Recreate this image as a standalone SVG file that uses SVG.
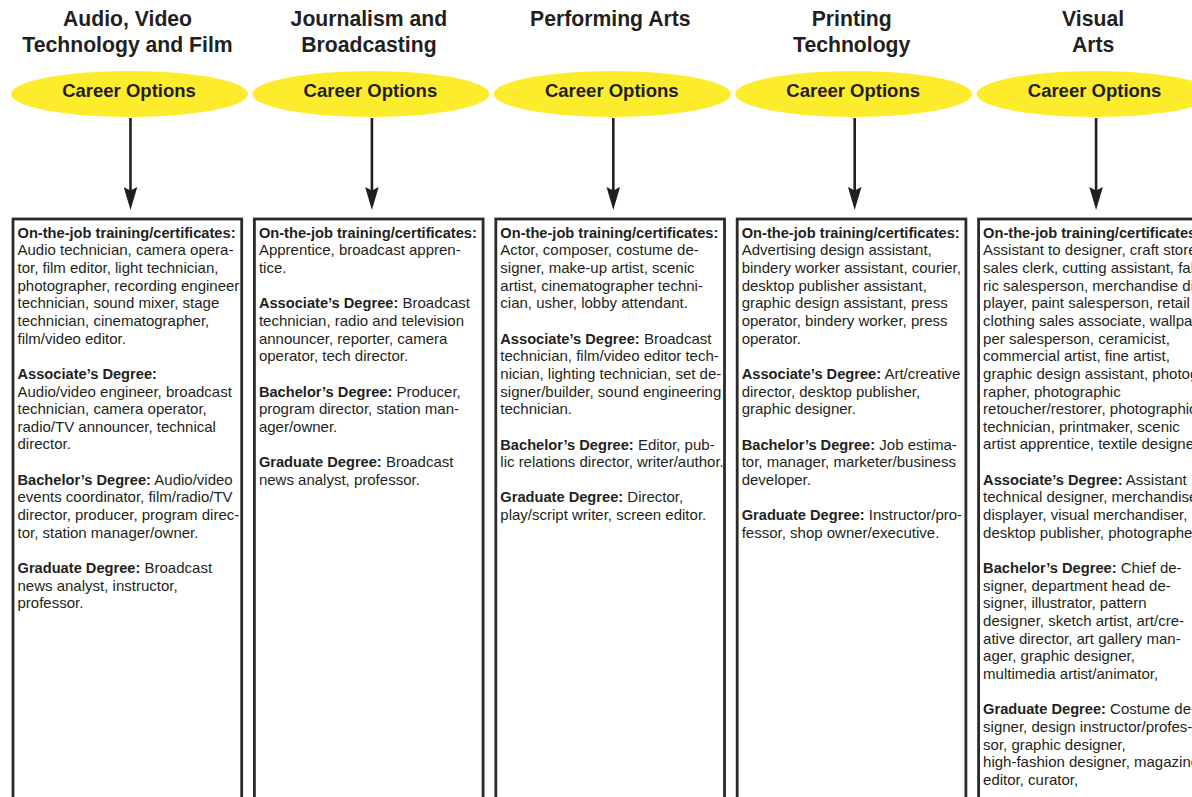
<svg xmlns="http://www.w3.org/2000/svg" width="1192" height="797" viewBox="0 0 1192 797">
<style>
text{font-family:"Liberation Sans",Arial,Helvetica,sans-serif;fill:#231f20}
.hd{font-size:21.2px;font-weight:bold;text-anchor:middle}
.co{font-size:18.5px;font-weight:bold;text-anchor:middle}
.ell{fill:#fcec2c;stroke:none}
.box{fill:#fff;stroke:#2b2b2b;stroke-width:2.8}
.bd{font-size:15px}
.b{font-weight:bold;font-size:14.65px}
.conn{stroke:#231f20;stroke-width:2.6;fill:none}
</style>
<defs>
<marker id="ah" viewBox="0 -7 23 14" markerWidth="23" markerHeight="14" refX="13" refY="0" orient="auto" markerUnits="userSpaceOnUse">
<path d="M0,-6.8 L23,0 L0,6.8 L3.5,0 Z" fill="#231f20"/>
</marker>
</defs>
<rect width="1192" height="797" fill="#fff"/>

<g id="connectors">
<line class="conn" x1="130.5" y1="118" x2="130.5" y2="200" marker-end="url(#ah)"/>
<line class="conn" x1="371.9" y1="118" x2="371.9" y2="200" marker-end="url(#ah)"/>
<line class="conn" x1="613.3" y1="118" x2="613.3" y2="200" marker-end="url(#ah)"/>
<line class="conn" x1="854.7" y1="118" x2="854.7" y2="200" marker-end="url(#ah)"/>
<line class="conn" x1="1096.1" y1="118" x2="1096.1" y2="200" marker-end="url(#ah)"/>
</g>

<!-- Column 1 -->
<g id="col1-title">
<text class="hd" x="127.5" y="26">Audio, Video</text>
<text class="hd" x="127.5" y="52">Technology and Film</text>
</g>
<g id="col1-options">
<ellipse class="ell" cx="129.5" cy="94" rx="118.5" ry="23"/>
<text class="co" x="129" y="97">Career Options</text>
</g>
<g id="col1-box">
<rect class="box" x="13" y="219" width="228.7" height="600"/>
<text class="bd" x="17.5" y="237.7">
<tspan class="b">On-the-job training/certificates:</tspan>
<tspan x="17.5" dy="17.65">Audio technician, camera opera-</tspan>
<tspan x="17.5" dy="17.65">tor, film editor, light technician,</tspan>
<tspan x="17.5" dy="17.65">photographer, recording engineer</tspan>
<tspan x="17.5" dy="17.65">technician, sound mixer, stage</tspan>
<tspan x="17.5" dy="17.65">technician, cinematographer,</tspan>
<tspan x="17.5" dy="17.65">film/video editor.</tspan>
<tspan x="17.5" dy="35.3" class="b">Associate’s Degree:</tspan>
<tspan x="17.5" dy="17.65">Audio/video engineer, broadcast</tspan>
<tspan x="17.5" dy="17.65">technician, camera operator,</tspan>
<tspan x="17.5" dy="17.65">radio/TV announcer, technical</tspan>
<tspan x="17.5" dy="17.65">director.</tspan>
<tspan x="17.5" dy="35.3" class="b">Bachelor’s Degree:</tspan><tspan> Audio/video</tspan>
<tspan x="17.5" dy="17.65">events coordinator, film/radio/TV</tspan>
<tspan x="17.5" dy="17.65">director, producer, program direc-</tspan>
<tspan x="17.5" dy="17.65">tor, station manager/owner.</tspan>
<tspan x="17.5" dy="35.3" class="b">Graduate Degree:</tspan><tspan> Broadcast</tspan>
<tspan x="17.5" dy="17.65">news analyst, instructor,</tspan>
<tspan x="17.5" dy="17.65">professor.</tspan>
</text>
</g>

<!-- Column 2 -->
<g id="col2-title">
<text class="hd" x="368.9" y="26">Journalism and</text>
<text class="hd" x="368.9" y="52">Broadcasting</text>
</g>
<g id="col2-options">
<ellipse class="ell" cx="370.9" cy="94" rx="118.5" ry="23"/>
<text class="co" x="370.4" y="97">Career Options</text>
</g>
<g id="col2-box">
<rect class="box" x="254.4" y="219" width="228.7" height="600"/>
<text class="bd" x="258.9" y="237.7">
<tspan class="b">On-the-job training/certificates:</tspan>
<tspan x="258.9" dy="17.65">Apprentice, broadcast appren-</tspan>
<tspan x="258.9" dy="17.65">tice.</tspan>
<tspan x="258.9" dy="35.3" class="b">Associate’s Degree:</tspan><tspan> Broadcast</tspan>
<tspan x="258.9" dy="17.65">technician, radio and television</tspan>
<tspan x="258.9" dy="17.65">announcer, reporter, camera</tspan>
<tspan x="258.9" dy="17.65">operator, tech director.</tspan>
<tspan x="258.9" dy="35.3" class="b">Bachelor’s Degree:</tspan><tspan> Producer,</tspan>
<tspan x="258.9" dy="17.65">program director, station man-</tspan>
<tspan x="258.9" dy="17.65">ager/owner.</tspan>
<tspan x="258.9" dy="35.3" class="b">Graduate Degree:</tspan><tspan> Broadcast</tspan>
<tspan x="258.9" dy="17.65">news analyst, professor.</tspan>
</text>
</g>

<!-- Column 3 -->
<g id="col3-title">
<text class="hd" x="610.3" y="26">Performing Arts</text>
</g>
<g id="col3-options">
<ellipse class="ell" cx="612.3" cy="94" rx="118.5" ry="23"/>
<text class="co" x="611.8" y="97">Career Options</text>
</g>
<g id="col3-box">
<rect class="box" x="495.8" y="219" width="228.7" height="600"/>
<text class="bd" x="500.3" y="237.7">
<tspan class="b">On-the-job training/certificates:</tspan>
<tspan x="500.3" dy="17.65">Actor, composer, costume de-</tspan>
<tspan x="500.3" dy="17.65">signer, make-up artist, scenic</tspan>
<tspan x="500.3" dy="17.65">artist, cinematographer techni-</tspan>
<tspan x="500.3" dy="17.65">cian, usher, lobby attendant.</tspan>
<tspan x="500.3" dy="35.3" class="b">Associate’s Degree:</tspan><tspan> Broadcast</tspan>
<tspan x="500.3" dy="17.65">technician, film/video editor tech-</tspan>
<tspan x="500.3" dy="17.65">nician, lighting technician, set de-</tspan>
<tspan x="500.3" dy="17.65">signer/builder, sound engineering</tspan>
<tspan x="500.3" dy="17.65">technician.</tspan>
<tspan x="500.3" dy="35.3" class="b">Bachelor’s Degree:</tspan><tspan> Editor, pub-</tspan>
<tspan x="500.3" dy="17.65">lic relations director, writer/author.</tspan>
<tspan x="500.3" dy="35.3" class="b">Graduate Degree:</tspan><tspan> Director,</tspan>
<tspan x="500.3" dy="17.65">play/script writer, screen editor.</tspan>
</text>
</g>

<!-- Column 4 -->
<g id="col4-title">
<text class="hd" x="851.7" y="26">Printing</text>
<text class="hd" x="851.7" y="52">Technology</text>
</g>
<g id="col4-options">
<ellipse class="ell" cx="853.7" cy="94" rx="118.5" ry="23"/>
<text class="co" x="853.2" y="97">Career Options</text>
</g>
<g id="col4-box">
<rect class="box" x="737.2" y="219" width="228.7" height="600"/>
<text class="bd" x="741.7" y="237.7">
<tspan class="b">On-the-job training/certificates:</tspan>
<tspan x="741.7" dy="17.65">Advertising design assistant,</tspan>
<tspan x="741.7" dy="17.65">bindery worker assistant, courier,</tspan>
<tspan x="741.7" dy="17.65">desktop publisher assistant,</tspan>
<tspan x="741.7" dy="17.65">graphic design assistant, press</tspan>
<tspan x="741.7" dy="17.65">operator, bindery worker, press</tspan>
<tspan x="741.7" dy="17.65">operator.</tspan>
<tspan x="741.7" dy="35.3" class="b">Associate’s Degree:</tspan><tspan> Art/creative</tspan>
<tspan x="741.7" dy="17.65">director, desktop publisher,</tspan>
<tspan x="741.7" dy="17.65">graphic designer.</tspan>
<tspan x="741.7" dy="35.3" class="b">Bachelor’s Degree:</tspan><tspan> Job estima-</tspan>
<tspan x="741.7" dy="17.65">tor, manager, marketer/business</tspan>
<tspan x="741.7" dy="17.65">developer.</tspan>
<tspan x="741.7" dy="35.3" class="b">Graduate Degree:</tspan><tspan> Instructor/pro-</tspan>
<tspan x="741.7" dy="17.65">fessor, shop owner/executive.</tspan>
</text>
</g>

<!-- Column 5 -->
<g id="col5-title">
<text class="hd" x="1093.1" y="26">Visual</text>
<text class="hd" x="1093.1" y="52">Arts</text>
</g>
<g id="col5-options">
<ellipse class="ell" cx="1095.1" cy="94" rx="118.5" ry="23"/>
<text class="co" x="1094.6" y="97">Career Options</text>
</g>
<g id="col5-box">
<rect class="box" x="978.6" y="219" width="228.7" height="600"/>
<text class="bd" x="983.1" y="237.7">
<tspan class="b">On-the-job training/certificates:</tspan>
<tspan x="983.1" dy="17.65">Assistant to designer, craft store</tspan>
<tspan x="983.1" dy="17.65">sales clerk, cutting assistant, fab-</tspan>
<tspan x="983.1" dy="17.65">ric salesperson, merchandise dis-</tspan>
<tspan x="983.1" dy="17.65">player, paint salesperson, retail</tspan>
<tspan x="983.1" dy="17.65">clothing sales associate, wallpa-</tspan>
<tspan x="983.1" dy="17.65">per salesperson, ceramicist,</tspan>
<tspan x="983.1" dy="17.65">commercial artist, fine artist,</tspan>
<tspan x="983.1" dy="17.65">graphic design assistant, photog-</tspan>
<tspan x="983.1" dy="17.65">rapher, photographic</tspan>
<tspan x="983.1" dy="17.65">retoucher/restorer, photographic</tspan>
<tspan x="983.1" dy="17.65">technician, printmaker, scenic</tspan>
<tspan x="983.1" dy="17.65">artist apprentice, textile designer,</tspan>
<tspan x="983.1" dy="35.3" class="b">Associate’s Degree:</tspan><tspan> Assistant</tspan>
<tspan x="983.1" dy="17.65">technical designer, merchandise</tspan>
<tspan x="983.1" dy="17.65">displayer, visual merchandiser,</tspan>
<tspan x="983.1" dy="17.65">desktop publisher, photographer,</tspan>
<tspan x="983.1" dy="35.3" class="b">Bachelor’s Degree:</tspan><tspan> Chief de-</tspan>
<tspan x="983.1" dy="17.65">signer, department head de-</tspan>
<tspan x="983.1" dy="17.65">signer, illustrator, pattern</tspan>
<tspan x="983.1" dy="17.65">designer, sketch artist, art/cre-</tspan>
<tspan x="983.1" dy="17.65">ative director, art gallery man-</tspan>
<tspan x="983.1" dy="17.65">ager, graphic designer,</tspan>
<tspan x="983.1" dy="17.65">multimedia artist/animator,</tspan>
<tspan x="983.1" dy="35.3" class="b">Graduate Degree:</tspan><tspan> Costume de-</tspan>
<tspan x="983.1" dy="17.65">signer, design instructor/profes-</tspan>
<tspan x="983.1" dy="17.65">sor, graphic designer,</tspan>
<tspan x="983.1" dy="17.65">high-fashion designer, magazine</tspan>
<tspan x="983.1" dy="17.65">editor, curator,</tspan>
</text>
</g>
</svg>
